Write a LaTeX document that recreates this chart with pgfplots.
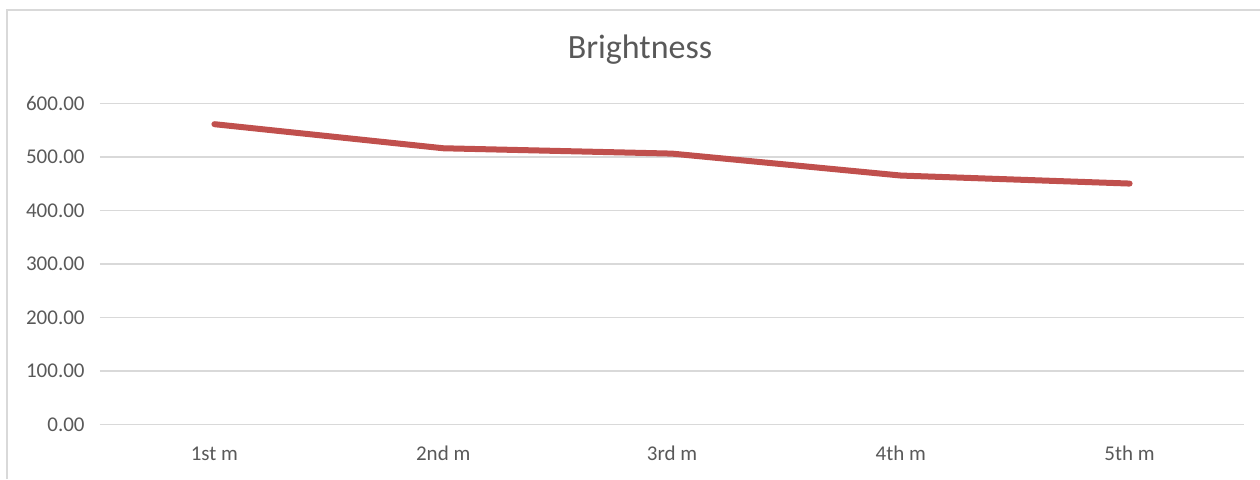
\documentclass[border=0pt]{standalone}
\usepackage{pgfplots}
\pgfplotsset{compat=1.18}
\usepackage{fontspec}
\setmainfont{Carlito}
\definecolor{txt}{HTML}{595959}
\definecolor{grid}{HTML}{D9D9D9}
\definecolor{line}{HTML}{C0504D}
\begin{document}
\begin{tikzpicture}
\path[use as bounding box] (0pt,0pt) rectangle (630pt,239.5pt);
\draw[color=grid,line width=0.8pt] (3.5pt,0pt) -- (3.5pt,234.5pt) -- (630pt,234.5pt);
\node[txt,font=\fontsize{17pt}{20pt}\selectfont] at (320pt,214.5pt) {Brightness};
\begin{axis}[
  at={(50pt,27.35pt)}, anchor=south west,
  scale only axis, width=572pt, height=160.5pt,
  xmin=-0.5, xmax=4.5, ymin=0, ymax=600,
  xtick={0,1,2,3,4},
  xticklabels={1st m,2nd m,3rd m,4th m,5th m},
  ytick={0,100,200,300,400,500,600},
  axis line style={draw=none},
  major tick length=0pt,
  ymajorgrids, grid style={color=grid,line width=0.75pt},
  tick label style={color=txt,font=\fontsize{10.5pt}{12pt}\selectfont},
  yticklabel style={anchor=east,inner sep=0pt,xshift=-7.5pt},
  xticklabel style={anchor=base,inner sep=0pt,yshift=-18pt},
  /pgf/number format/assume math mode=true,
  yticklabel={\pgfmathprintnumber[fixed,zerofill,precision=2]{\tick}},
  clip=false,
]
\addplot[color=line,line width=3pt,line join=round,line cap=round] coordinates {
  (0,561) (1,516) (2,506) (3,465) (4,450)
};
\end{axis}
\end{tikzpicture}
\end{document}
